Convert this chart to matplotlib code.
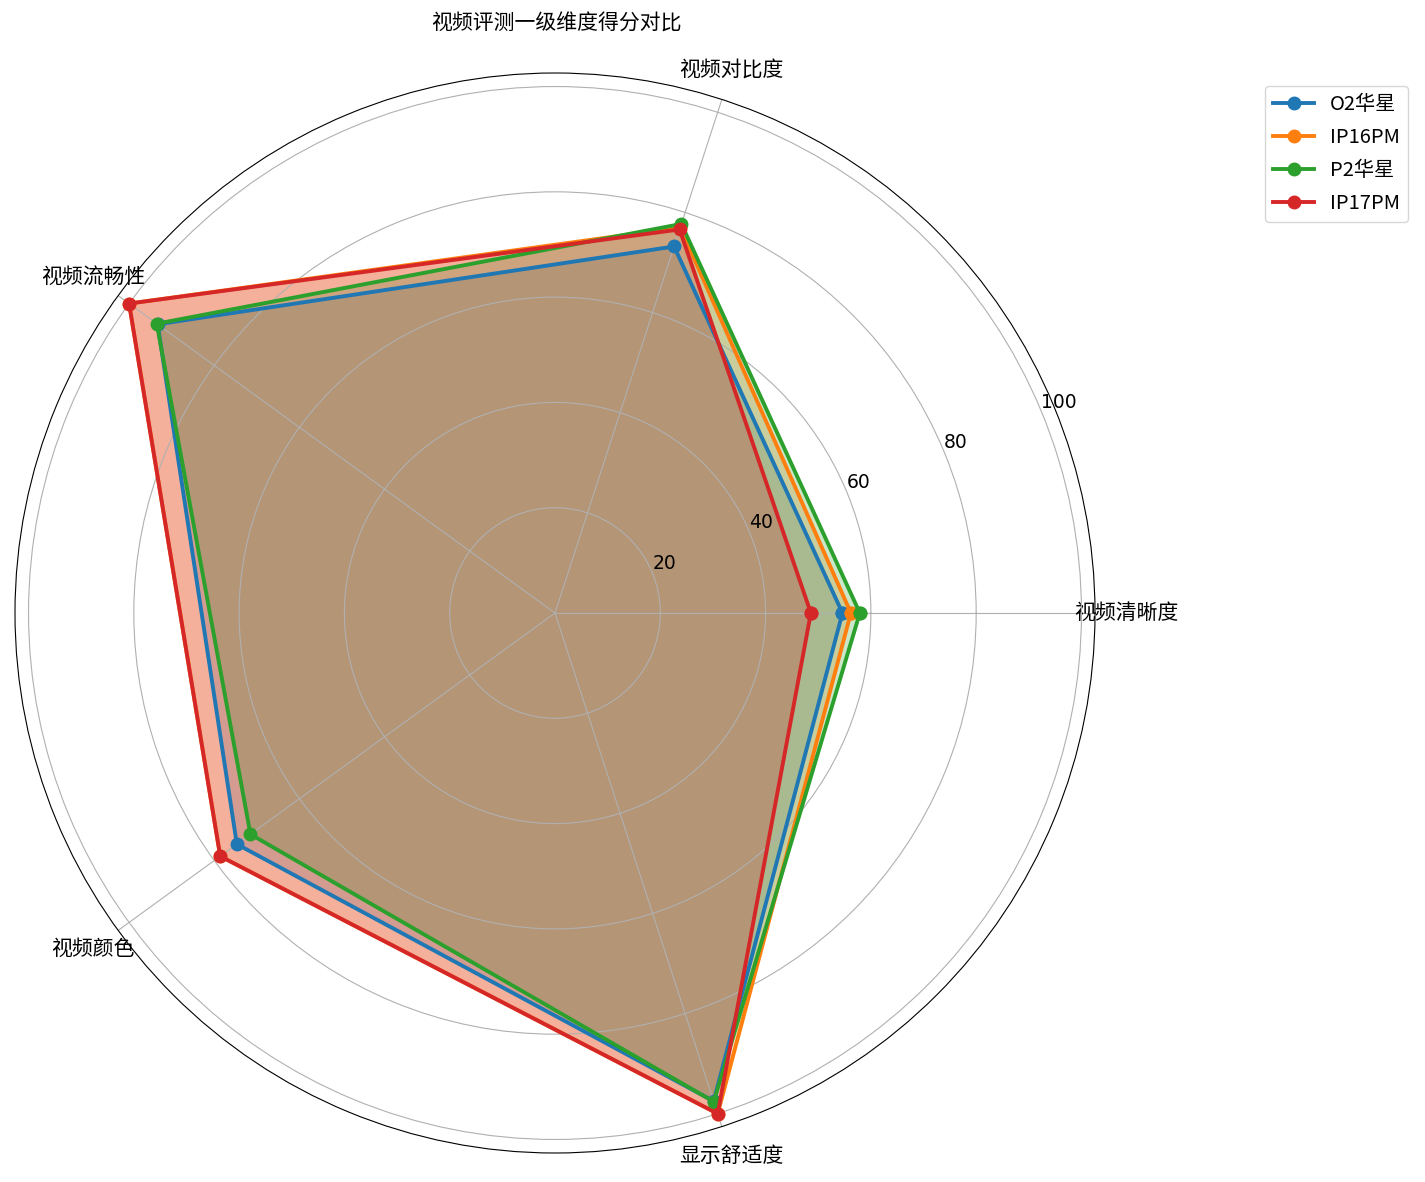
import numpy as np
import matplotlib
matplotlib.use("Agg")
import matplotlib.pyplot as plt

categories = ['视频清晰度', '视频对比度', '视频流畅性', '视频颜色', '显示舒适度']
series_names = ['O2华星', 'IP16PM', 'P2华星', 'IP17PM']
o2_huaxing = [54.6, 73.2, 93.3, 74.7, 97.5]
ip16pm = [56.2, 77.0, 100.0, 78.6, 100.0]
p2_huaxing = [57.9, 77.7, 93.5, 71.5, 97.6]
ip17pm = [48.6, 76.6, 100.0, 78.6, 100.0]
title = '视频评测一级维度得分对比'

all_series = [o2_huaxing, ip16pm, p2_huaxing, ip17pm]
colors = ['#1f77b4', '#ff7f0e', '#2ca02c', '#d62728']

cjk = ['Noto Sans CJK SC', 'DejaVu Sans']

fig = plt.figure(figsize=(14.25, 11.82), dpi=100)
ax = fig.add_axes([15/1425, 29/1182, 1080/1425, 1080/1182], projection='polar')

n = len(categories)
angles = np.linspace(0, 2*np.pi, n, endpoint=False).tolist()
angles_closed = angles + angles[:1]

for name, vals, c in zip(series_names, all_series, colors):
    v = list(vals) + [vals[0]]
    ax.plot(angles_closed, v, 'o-', color=c, linewidth=2.8, markersize=9, label=name)
    ax.fill(angles_closed, v, color=c, alpha=0.25)

ax.set_xticks(angles)
ax.set_xticklabels(categories, fontsize=15, family=cjk)
ax.tick_params(axis='y', labelsize=13.5)
ax.tick_params(axis='x', pad=12)
for lab in ax.get_yticklabels():
    lab.set_family('DejaVu Sans')

fig.text(556/1425, 1 - 24/1182, title, ha='center', va='center', fontsize=15, family=cjk)

ax.legend(loc='upper right', bbox_to_anchor=(1418/1425, 1 - 76/1182),
          bbox_transform=fig.transFigure, prop={'family': cjk, 'size': 14.5},
          labelspacing=0.6)

fig.savefig('out.png', dpi=100)
